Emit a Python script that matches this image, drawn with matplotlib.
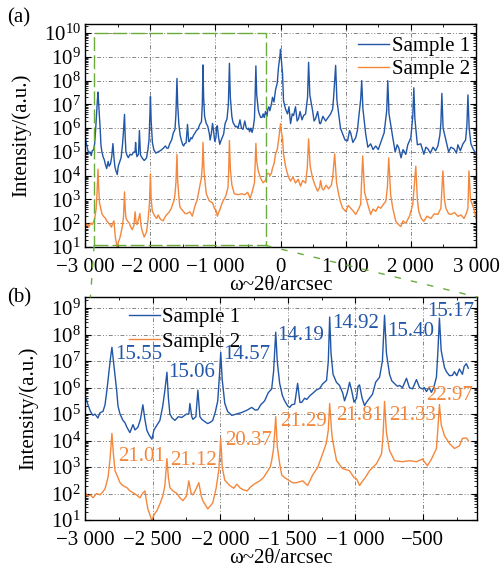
import matplotlib
matplotlib.use("Agg")
import matplotlib.pyplot as plt
import numpy as np
from matplotlib.patches import Rectangle, ConnectionPatch
from matplotlib.ticker import FuncFormatter, MultipleLocator, LogLocator, NullFormatter, LogFormatterMathtext

plt.rcParams['font.family'] = ['Liberation Serif', 'DejaVu Serif']
plt.rcParams['mathtext.fontset'] = 'stix'
plt.rcParams['font.size'] = 15

# ---- data: omega-2theta position (arcsec) and log10 intensity ----
s1_x = [-3000, -2993, -2978, -2960, -2941, -2926, -2905, -2889, -2867, -2852, -2838, -2825, -2812, -2801,
        -2790, -2778, -2766, -2756, -2741, -2719, -2705, -2690, -2668, -2645, -2630, -2609, -2590, -2572,
        -2557, -2542, -2525, -2505, -2490, -2468, -2446, -2425, -2409, -2394, -2383, -2372, -2355, -2335,
        -2310, -2284, -2250, -2232, -2224, -2210, -2202, -2180, -2165, -2150, -2136, -2110, -2092, -2070,
        -2055, -2035, -2018, -2005, -1996, -1985, -1966, -1945, -1914, -1880, -1840, -1800, -1767, -1740,
        -1722, -1700, -1671, -1645, -1619, -1605, -1589, -1578, -1560, -1540, -1523, -1500, -1486, -1470,
        -1449, -1427, -1410, -1397, -1375, -1360, -1335, -1316, -1290, -1264, -1240, -1213, -1200, -1190,
        -1180, -1165, -1140, -1117, -1094, -1080, -1060, -1043, -1028, -1010, -991, -980, -969, -950,
        -932, -917, -895, -873, -850, -821, -800, -784, -770, -747, -730, -710, -690, -673, -651, -622,
        -600, -577, -548, -525, -504, -490, -474, -455, -437, -420, -400, -390, -378, -365, -341, -326,
        -304, -282, -267, -250, -230, -208, -195, -179, -164,
        -140, -123, -100, -77, -50, -31, -10, 0, 12, 31, 46, 77, 108, 130, 154, 180, 200, 230, 255, 277,
        300, 330, 354, 385, 415, 431, 450, 492, 515, 538, 570, 600, 615, 650, 692, 730, 769, 800, 815,
        846, 865, 892, 920, 954, 990, 1030, 1060, 1077, 1110, 1154, 1180, 1200, 1230, 1246, 1265, 1307,
        1340, 1384, 1420, 1461, 1500, 1538, 1590, 1630, 1646, 1665, 1723, 1760, 1790, 1815, 1850, 1880,
        1923, 1953, 2000, 2030, 2046, 2062, 2100, 2153, 2200, 2230, 2261, 2300, 2340, 2380, 2415, 2445,
        2461, 2476, 2495, 2538, 2580, 2615, 2661, 2700, 2722, 2760, 2799, 2840, 2860, 2876, 2895, 2922,
        2960, 3000]
s1_exp = [5.55, 5.6, 5.35, 5.1, 4.95, 5.0, 4.85, 5.05, 5.1, 5.35, 5.9, 6.5, 7.1, 7.52,
          7.0, 6.4, 5.9, 5.3, 5.0, 4.76, 4.68, 4.5, 4.3, 4.6, 4.4, 4.5, 4.8, 5.35,
          4.8, 4.38, 4.2, 4.05, 4.4, 4.58, 4.76, 5.3, 5.9, 6.58, 5.6, 5.0, 4.85, 4.76,
          4.9, 4.87, 5.0, 5.0, 5.4, 4.9, 4.8, 4.9, 5.9, 4.9, 4.8, 4.7, 4.64, 4.7,
          4.76, 5.1, 5.5, 6.5, 7.33, 6.3, 5.4, 5.1, 4.95, 5.0, 5.06, 5.15, 5.25, 5.15,
          5.16, 5.35, 5.5, 5.8, 5.95, 6.6, 8.09, 7.0, 6.16, 5.7, 5.5, 5.3, 5.25, 5.35,
          5.38, 6.16, 5.44, 5.44, 5.6, 5.55, 5.7, 5.78, 5.9, 5.97, 6.15, 6.27, 7.0, 8.66,
          7.3, 6.5, 6.2, 6.08, 5.8, 5.5, 5.8, 6.2, 5.9, 5.45, 5.6, 6.05, 6.1, 5.6,
          5.32, 5.45, 5.6, 5.75, 6.2, 6.39, 7.0, 8.73, 7.3, 6.5, 6.25, 6.15, 6.05, 6.08, 6.0, 6.35,
          6.0, 5.95, 6.3, 6.0, 5.95, 6.0, 5.85, 6.0, 5.82, 6.0, 6.4, 7.3, 8.62, 7.4, 6.76, 6.6,
          6.45, 6.46, 6.6, 6.45, 6.7, 6.5, 6.8, 6.9, 6.73,
          7.0, 7.3, 7.1, 7.6, 7.9, 8.56, 9.0, 9.32, 8.9, 8.3, 7.16, 6.8, 6.6, 6.9, 6.19, 6.6, 6.53, 6.9, 6.3, 6.4,
          6.7, 6.35, 6.53, 6.6, 7.3, 8.77, 7.4, 6.74, 6.3, 6.4, 6.7, 6.2, 6.19, 6.5, 6.3, 6.45, 6.6, 6.8, 7.3,
          8.64, 7.2, 6.6, 6.0, 5.76, 5.5, 5.47, 5.9, 5.8, 5.4, 5.6, 5.9, 6.44, 7.2, 8.0, 6.8, 5.76,
          5.2, 5.34, 5.1, 5.25, 5.1, 5.4, 5.8, 6.74, 8.0, 6.6, 5.6, 5.0, 5.3, 5.17, 4.75, 5.1,
          4.9, 5.3, 5.6, 6.5, 7.7, 6.4, 5.3, 5.34, 4.9, 5.2, 5.13, 4.95, 5.2, 5.05, 5.25, 5.7,
          6.2, 7.46, 6.0, 5.5, 5.0, 5.2, 5.13, 4.95, 5.3, 5.05, 5.34, 5.5, 6.1, 7.4, 6.0, 5.34,
          5.1, 4.92]

s2_x = [-3000, -2993, -2978, -2960, -2941, -2915, -2889, -2870, -2852, -2830, -2815, -2801, -2790, -2778,
        -2756, -2741, -2720, -2690, -2668, -2645, -2620, -2594, -2575, -2557, -2545, -2535, -2520, -2505,
        -2490, -2468, -2446, -2425, -2409, -2394, -2383, -2372, -2350, -2320, -2300, -2276, -2250, -2232,
        -2215, -2202, -2185, -2158, -2140, -2128, -2092, -2070, -2055, -2030, -2010, -1996, -1985, -1966,
        -1929, -1900, -1877, -1850, -1833, -1800, -1781, -1750, -1707, -1680, -1656, -1630, -1619, -1605,
        -1589, -1578, -1560, -1545, -1523, -1486, -1460, -1434, -1390, -1353, -1316, -1279, -1242, -1215,
        -1200, -1190, -1175, -1168, -1139, -1094, -1043, -1010, -991, -969, -950, -932, -895, -843,
        -806, -795, -784, -770, -747, -710, -651, -600, -548, -504, -467, -437, -400, -390, -378, -365,
        -341, -304, -267, -230, -208, -179, -164,
        -140, -123, -100, -77, -50, -31, 0, 15, 31, 46, 77, 108, 130, 154, 190, 231, 270, 308, 340, 385,
        410, 431, 455, 492, 530, 569, 600, 615, 640, 661, 700, 738, 780, 800, 831, 860, 892, 920, 954,
        1000, 1040, 1077, 1120, 1154, 1200, 1230, 1261, 1290, 1338, 1384, 1420, 1461, 1500, 1538, 1580,
        1615, 1640, 1661, 1690, 1723, 1769, 1810, 1846, 1880, 1923, 1980, 2030, 2076, 2100, 2122, 2160,
        2199, 2250, 2307, 2360, 2415, 2461, 2492, 2515, 2538, 2580, 2615, 2670, 2722, 2770, 2815, 2850,
        2876, 2892, 2915, 2968, 3000]
s2_exp = [1.73, 2.0, 1.9, 1.95, 1.84, 2.0, 1.95, 2.05, 2.18, 2.6, 3.3, 4.27, 3.5, 2.86,
          2.6, 2.41, 2.3, 2.22, 2.1, 2.03, 1.95, 1.84, 2.0, 2.1, 1.7, 1.42, 1.2, 0.97,
          1.2, 1.35, 1.61, 1.9, 2.3, 3.32, 2.6, 2.22, 2.1, 2.0, 1.85, 1.73, 1.9, 2.48,
          2.0, 1.95, 2.1, 2.41, 1.9, 1.73, 1.42, 1.55, 1.65, 2.2, 2.9, 4.08, 3.0, 2.5,
          2.3, 2.2, 2.35, 2.2, 2.15, 2.1, 2.22, 2.35, 2.48, 2.6, 2.79, 3.0, 3.24, 3.7,
          4.9, 3.8, 3.13, 2.7, 2.6, 2.48, 2.4, 2.41, 2.48, 2.3, 2.7, 2.98, 3.5, 3.9,
          4.4, 5.4, 4.3, 4.0, 3.24, 2.94, 2.86, 2.6, 2.56, 2.3, 2.45, 2.56, 2.86, 3.13,
          3.5, 4.2, 5.48, 4.3, 3.62, 3.24, 3.2, 3.24, 3.2, 3.3, 3.05, 3.3, 3.7, 4.4, 5.36, 4.6,
          4.19, 3.89, 3.7, 3.8, 4.08, 4.1, 4.0,
          4.1, 4.32, 4.5, 4.9, 5.1, 5.47, 6.19, 5.8, 5.6, 4.92, 4.4, 4.07, 3.9, 3.77, 3.95, 3.69, 3.85, 3.56, 3.8, 3.69,
          4.3, 5.55, 4.4, 3.9, 3.6, 3.35, 3.5, 3.8, 3.45, 3.4, 3.6, 3.45, 3.6, 3.9, 4.92, 3.7, 3.22, 2.9, 2.63,
          2.5, 2.75, 2.63, 2.5, 2.37, 2.6, 2.8, 4.83, 3.3, 2.8, 2.37, 2.6, 2.5, 2.7, 2.63, 2.8,
          2.92, 3.5, 4.75, 3.2, 2.63, 2.08, 1.95, 1.86, 2.1, 2.0, 2.3, 2.8, 4.4, 3.0, 2.5, 2.2,
          2.08, 2.3, 2.2, 2.4, 2.37, 2.63, 4.2, 3.0, 2.63, 2.4, 2.37, 2.45, 2.29, 2.35, 2.2, 2.4,
          2.63, 4.2, 3.0, 2.6, 2.2]

# satellite peak labels in panel (b): text, x, log10 y
labels1 = ['15.55', '15.06', '14.57', '14.19', '14.92', '15.40', '15.17']
lab1_x = [-2778, -2387, -1981, -1575, -1168, -762, -467]
lab1_y = [7.26, 6.58, 7.26, 7.98, 8.43, 8.13, 8.89]
labels2 = ['21.01', '21.12', '20.37', '21.29', '21.81', '21.33', '22.97']
lab2_x = [-2756, -2372, -1966, -1560, -1139, -747, -474]
lab2_y = [3.39, 3.24, 4.0, 4.72, 4.95, 4.95, 5.7]

zoom_box = (-2860, -230, 10 ** 1.07, 1e10)

blue = '#2256a6'
orange = '#f4873b'
green = '#6aab3c'
gridc = '#858585'

s1_x = np.array(s1_x)
s2_x = np.array(s2_x)
s1_y = 10 ** np.array(s1_exp)
s2_y = 10 ** np.array(s2_exp)


def fmt_x(v, pos):
    s = f"{abs(v):,.0f}".replace(',', ' ')
    return '\u2212' + s if v < 0 else s


def style(ax, xmajor, xminor):
    ax.set_yscale('log')
    ax.xaxis.set_major_locator(MultipleLocator(xmajor))
    ax.xaxis.set_minor_locator(MultipleLocator(xminor))
    ax.xaxis.set_major_formatter(FuncFormatter(fmt_x))
    ax.yaxis.set_major_locator(LogLocator(base=10, numticks=20))
    ax.yaxis.set_major_formatter(LogFormatterMathtext())
    ax.yaxis.set_minor_locator(LogLocator(base=10, subs=np.arange(2, 10), numticks=20))
    ax.yaxis.set_minor_formatter(NullFormatter())
    ax.tick_params(which='both', direction='in', top=True, right=True, labelsize=15)
    ax.tick_params(which='major', length=4, width=0.8, pad=3)
    ax.tick_params(axis='x', which='major', pad=8)
    ax.tick_params(which='minor', length=2, width=0.6)
    ax.grid(True, which='major', color=gridc, linestyle=(0, (4, 2, 1, 2, 1, 2)), linewidth=0.7)
    for sp in ax.spines.values():
        sp.set_linewidth(1.0)
    ax.set_xlabel('ω~2θ/arcsec', labelpad=-1)
    ax.set_ylabel('Intensity/(a.u.)', labelpad=9)


fig = plt.figure(figsize=(5.01, 5.71), dpi=100)
ax_a = fig.add_axes([0.1697, 0.5674, 0.7804, 0.3905])
ax_b = fig.add_axes([0.1697, 0.0893, 0.7824, 0.3906])

# panel (a)
ax_a.plot(s1_x, s1_y, color=blue, lw=1.0, label='Sample 1')
ax_a.plot(s2_x, s2_y, color=orange, lw=1.0, label='Sample 2')
style(ax_a, 1000, 500)
ax_a.set_xlim(-3000, 3000)
ax_a.set_ylim(10, 10 ** 10.38)
ax_a.legend(loc='upper left', bbox_to_anchor=(0.665, 1.0), frameon=False, handlelength=1.5,
            handletextpad=0.15, labelspacing=0.15, borderaxespad=0.2, fontsize=15)
x0, x1, y0, y1 = zoom_box
ax_a.add_patch(Rectangle((x0, y0), x1 - x0, y1 - y0, fill=False, edgecolor=green,
                         linestyle=(0, (10, 3)), linewidth=1.0, zorder=3))

# panel (b)
m1 = s1_x <= -164
m2 = s2_x <= -164
ax_b.plot(s1_x[m1], s1_y[m1], color=blue, lw=1.0, label='Sample 1')
ax_b.plot(s2_x[m2], s2_y[m2], color=orange, lw=1.0, label='Sample 2')
style(ax_b, 500, 250)
ax_b.set_xlim(-3000, -100)
ax_b.set_ylim(10, 10 ** 9.42)
ax_b.legend(loc='upper left', bbox_to_anchor=(0.08, 1.01), frameon=False, handlelength=1.5,
            handletextpad=0.1, labelspacing=0.25, borderaxespad=0.2, fontsize=15)
for t, x, y in zip(labels1, lab1_x, lab1_y):
    ax_b.text(x, 10 ** y, t, color=blue, fontsize=15, ha='left', va='center')
for t, x, y in zip(labels2, lab2_x, lab2_y):
    ax_b.text(x, 10 ** y, t, color=orange, fontsize=15, ha='left', va='center')

# zoom connectors
for xa, xb in [(x0, -2960), (x1, -100)]:
    con = ConnectionPatch(xyA=(xa, y0), coordsA=ax_a.transData,
                          xyB=(xb, 10 ** 9.42), coordsB=ax_b.transData,
                          color=green, linestyle=(0, (4, 8)), linewidth=1.0)
    fig.add_artist(con)

fig.text(0.038, 0.968, '(a)', fontsize=15, ha='center', va='center')
fig.text(0.038, 0.478, '(b)', fontsize=15, ha='center', va='center')

fig.savefig('out.png', dpi=100)
